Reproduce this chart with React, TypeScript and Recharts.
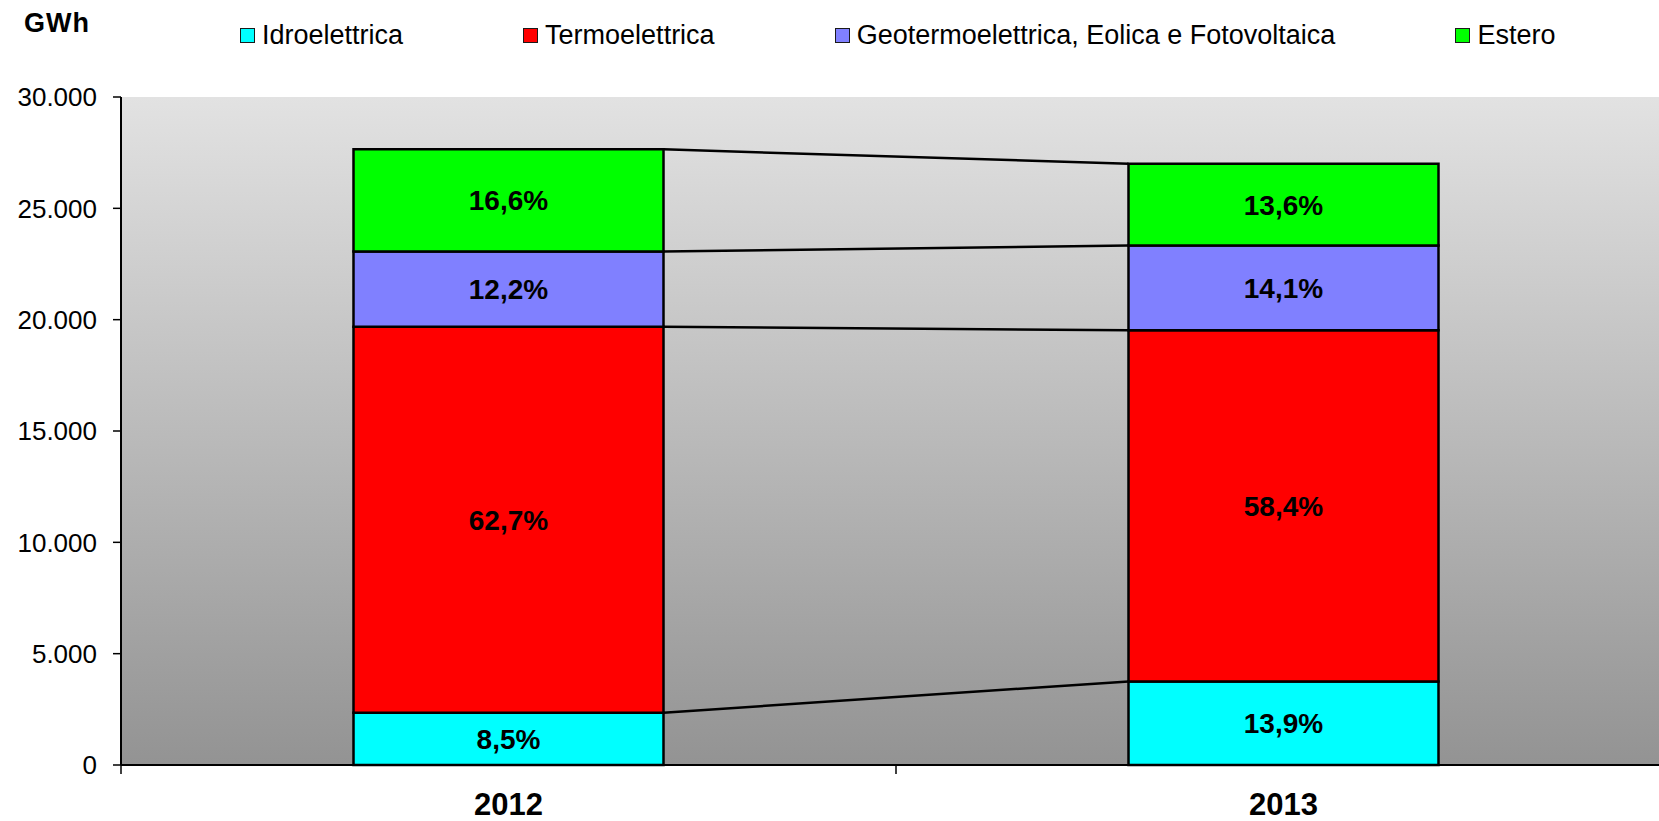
import React from 'react';
import { BarChart, Bar, XAxis, YAxis, CartesianGrid, Legend, LabelList, ReferenceLine } from 'recharts';

// ---- data ----
const categories = ['2012', '2013'];
const idroelettrica = [2350, 3753];
const termoelettrica = [17337, 15768];
const geotermoelettrica = [3373, 3807];
const estero = [4590, 3672];
const idroPct = ['8,5%', '13,9%'];
const termoPct = ['62,7%', '58,4%'];
const geoPct = ['12,2%', '14,1%'];
const esteroPct = ['16,6%', '13,6%'];
const yTicks = [0, 5000, 10000, 15000, 20000, 25000, 30000];
const bandEdges = [0, 1, 2];

const FONT = '"Liberation Sans", Arial, Helvetica, sans-serif';
const BAR_GAP = 0.3;
const Y_MAX = 30000;
const PLOT_H = 668;
const X_TICK_PX = 9;

const series = [
  { key: 'idro', name: 'Idroelettrica', values: idroelettrica, labels: idroPct, color: '#00FFFF' },
  { key: 'termo', name: 'Termoelettrica', values: termoelettrica, labels: termoPct, color: '#FF0000' },
  { key: 'geo', name: 'Geotermoelettrica, Eolica e Fotovoltaica', values: geotermoelettrica, labels: geoPct, color: '#8080FF' },
  { key: 'estero', name: 'Estero', values: estero, labels: esteroPct, color: '#00FF00' },
];

const data = categories.map((year, i) => {
  const row: any = { year, pos: i + 0.5 };
  series.forEach((s) => {
    row[s.key] = s.values[i];
    row[s.key + 'Label'] = s.labels[i];
  });
  return row;
});

const cumulative = (i: number, k: number) =>
  series.slice(0, k).reduce((acc, s) => acc + s.values[i], 0);

const fmt = (v: number) => String(v).replace(/\B(?=(\d{3})+(?!\d))/g, '.');

const renderLegend = () => (
  <div style={{ display: 'flex', alignItems: 'center', paddingLeft: 240, paddingTop: 21, height: 28, fontFamily: FONT }}>
    {series.map((s) => (
      <div key={s.key} style={{ display: 'flex', alignItems: 'center', marginRight: 120 }}>
        <span style={{ display: 'inline-block', width: 13, height: 13, background: s.color, border: '1px solid #1a1a1a', marginRight: 7 }} />
        <span style={{ fontSize: 27, color: '#000', lineHeight: '28px', whiteSpace: 'nowrap' }}>{s.name}</span>
      </div>
    ))}
  </div>
);

const GwhLabel = (props: any) => {
  const vb = props.viewBox || { x: 0, y: 97 };
  return (
    <text x={vb.x + 24} y={vb.y - 65} fontFamily={FONT} fontSize={27} fontWeight="bold" letterSpacing={1} fill="#000">
      GWh
    </text>
  );
};

export default function App() {
  const tickUnits = (X_TICK_PX * Y_MAX) / PLOT_H;
  return (
    <div style={{ position: 'absolute', left: 0, top: 0, width: 1659, height: 821, overflow: 'hidden', background: '#fff' }}>
      <BarChart
        width={1671}
        height={821}
        data={data}
        margin={{ top: 37, right: 0, bottom: 0, left: 0 }}
        barCategoryGap={`${BAR_GAP * 100}%`}
        style={{ fontFamily: FONT }}
      >
        <defs>
          <linearGradient id="bgGrad" x1="0" y1="0" x2="0" y2="1">
            <stop offset="0%" stopColor="#e2e2e2" />
            <stop offset="100%" stopColor="#939393" />
          </linearGradient>
        </defs>
        <CartesianGrid fill="url(#bgGrad)" horizontal={false} vertical={false} xAxisId="cat" />
        <Legend verticalAlign="top" align="left" height={60} content={renderLegend} wrapperStyle={{ top: 0, left: 0, width: 1659 }} />
        <XAxis xAxisId="num" type="number" dataKey="pos" domain={[0, 2]} hide allowDataOverflow />
        <XAxis
          xAxisId="cat"
          dataKey="year"
          height={56}
          tickLine={false}
          tickSize={8}
          tickMargin={20}
          axisLine={{ stroke: '#000', strokeWidth: 2 }}
          tick={{ fill: '#000', fontSize: 31, fontWeight: 'bold', fontFamily: FONT }}
        />
        <YAxis
          domain={[0, Y_MAX]}
          ticks={yTicks}
          interval={0}
          tickFormatter={fmt}
          width={121}
          tickSize={8}
          tickMargin={16}
          axisLine={{ stroke: '#000', strokeWidth: 2 }}
          tickLine={{ stroke: '#000', strokeWidth: 1.5 }}
          tick={{ fill: '#000', fontSize: 26, fontFamily: FONT }}
          label={{ content: GwhLabel }}
        />
        {bandEdges.map((e) => (
          <ReferenceLine
            key={'tick' + e}
            xAxisId="num"
            ifOverflow="visible"
            stroke="#000"
            strokeWidth={1.5}
            segment={[
              { x: e, y: 0 },
              { x: e, y: -tickUnits },
            ]}
          />
        ))}
        {series.map((s, k) => (
          <ReferenceLine
            key={'conn' + k}
            xAxisId="num"
            ifOverflow="visible"
            stroke="#000"
            strokeWidth={2.5}
            segment={[
              { x: 1 - BAR_GAP, y: cumulative(0, k + 1) },
              { x: 1 + BAR_GAP, y: cumulative(1, k + 1) },
            ]}
          />
        ))}
        {series.map((s) => (
          <Bar
            key={s.key}
            xAxisId="cat"
            dataKey={s.key}
            name={s.name}
            stackId="a"
            fill={s.color}
            stroke="#000"
            strokeWidth={2.5}
            isAnimationActive={false}
          >
            <LabelList
              dataKey={s.key + 'Label'}
              position="center"
              fill="#000"
              fontSize={28}
              fontWeight="bold"
              fontFamily={FONT}
            />
          </Bar>
        ))}
      </BarChart>
    </div>
  );
}
